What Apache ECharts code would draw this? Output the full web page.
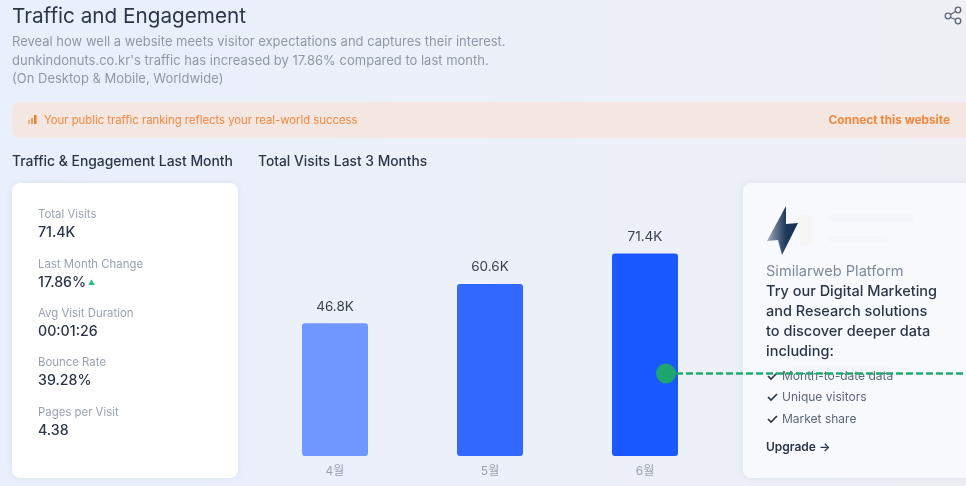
<!DOCTYPE html>
<html>
<head>
<meta charset="utf-8">
<title>Traffic and Engagement</title>
<script src="https://cdn.jsdelivr.net/npm/echarts@6/dist/echarts.min.js"></script>
<style>
html, body { margin: 0; padding: 0; background: #ebf0fa; }
#chart { width: 966px; height: 486px; }
</style>
</head>
<body>
<div id="chart"></div>
<script>
var font = 'Inter, "Noto Sans CJK KR", sans-serif';

var months = ['4월', '5월', '6월'];
var visits = [46.8, 60.6, 71.4];
var barColors = ['#7096ff', '#3368ff', '#1a59ff'];

var introLines = [
    'Reveal how well a website meets visitor expectations and captures their interest.',
    "dunkindonuts.co.kr's traffic has increased by 17.86% compared to last month.",
    '(On Desktop & Mobile, Worldwide)'
];
var statLabels = ['Total Visits', 'Last Month Change', 'Avg Visit Duration', 'Bounce Rate', 'Pages per Visit'];
var statValues = ['71.4K', '17.86%', '00:01:26', '39.28%', '4.38'];
var statLabelY = [215, 265, 314, 363, 413];
var statValueY = [232, 282, 331, 380, 430];
var promoLines = ['Try our Digital Marketing', 'and Research solutions', 'to discover deeper data', 'including:'];
var promoY = [292, 312, 332, 352];
var featureLines = ['Month-to-date data', 'Unique visitors', 'Market share'];
var featureY = [376, 397, 419];

function label(x, y, text, size, color, weight, align) {
    return {
        type: 'text', x: x, y: y, z: 5,
        style: {
            text: text, fontFamily: font, fontSize: size, fill: color,
            fontWeight: weight || 400, align: align || 'left', verticalAlign: 'middle'
        }
    };
}

function card(x, y, w, h, fill, blur) {
    return {
        type: 'rect', z: 1,
        shape: { x: x, y: y, width: w, height: h, r: 8 },
        style: { fill: fill, shadowBlur: blur, shadowColor: 'rgba(90,110,160,0.10)' }
    };
}

function smudge(x, y, w, h, color) {
    return {
        type: 'rect', z: 2,
        shape: { x: x, y: y, width: w, height: h, r: 3 },
        style: { fill: color, shadowBlur: 12, shadowColor: color }
    };
}

function tick(x, y) {
    return {
        type: 'polyline', z: 5,
        shape: { points: [[x, y], [x + 3, y + 3], [x + 9, y - 3]] },
        style: { stroke: '#2b3648', lineWidth: 1.7, fill: null }
    };
}

var graphics = [
    card(12, 102, 966, 36, '#f4e6e0', 0),
    card(12, 183, 226, 295, '#ffffff', 6),
    card(743, 183, 240, 295, '#f7f9fd', 10),
    // blurred-out text in the promo card
    smudge(828, 214, 86, 8, 'rgba(226,231,240,0.14)'),
    smudge(828, 236, 60, 6, 'rgba(226,231,240,0.14)'),
    smudge(800, 215, 12, 30, 'rgba(250,232,210,0.16)'),
    smudge(790, 366, 100, 8, 'rgba(232,236,243,0.14)'),
    label(12, 16.5, 'Traffic and Engagement', 20.7, '#2b3648'),
    label(12, 161.5, 'Traffic & Engagement Last Month', 13.9, '#2b3648', 500),
    label(258, 161.5, 'Total Visits Last 3 Months', 13.8, '#2b3648', 500),
    label(44, 120.5, 'Your public traffic ranking reflects your real-world success', 11.3, '#f0883e'),
    label(950, 120.5, 'Connect this website', 11.8, '#f0883e', 700, 'right'),
    label(766, 272, 'Similarweb Platform', 14.6, '#7f8a9c'),
    label(766, 447.5, 'Upgrade →', 12, '#2b3648', 600),
    label(88, 283, '▲', 7, '#22c07a'),
    // small bars icon in the notice
    { type: 'rect', z: 5, shape: { x: 28, y: 120, width: 2, height: 4 }, style: { fill: '#f5b183' } },
    { type: 'rect', z: 5, shape: { x: 31, y: 118, width: 2, height: 6 }, style: { fill: '#f09a5c' } },
    { type: 'rect', z: 5, shape: { x: 34, y: 115, width: 2.5, height: 9 }, style: { fill: '#ec7f30' } },
    // lightning logo
    {
        type: 'polygon', z: 5,
        shape: { points: [[786, 206], [767, 241], [778, 240], [782, 255], [798, 223], [786, 224]] },
        style: {
            fill: {
                type: 'linear', x: 0, y: 0, x2: 1, y2: 0,
                colorStops: [{ offset: 0, color: '#a3aebb' }, { offset: 0.6, color: '#1e3a5c' }, { offset: 1, color: '#14304f' }]
            }
        }
    },
    // share icon
    { type: 'circle', z: 5, shape: { cx: 958, cy: 10, r: 2.8 }, style: { fill: 'none', stroke: '#5d6878', lineWidth: 1.3 } },
    { type: 'circle', z: 5, shape: { cx: 948, cy: 16, r: 2.8 }, style: { fill: 'none', stroke: '#5d6878', lineWidth: 1.3 } },
    { type: 'circle', z: 5, shape: { cx: 958, cy: 21, r: 2.8 }, style: { fill: 'none', stroke: '#5d6878', lineWidth: 1.3 } },
    { type: 'polyline', z: 5, shape: { points: [[955.5, 11.5], [950.5, 14.5]] }, style: { stroke: '#5d6878', lineWidth: 1.3 } },
    { type: 'polyline', z: 5, shape: { points: [[950.5, 17.5], [955.5, 19.5]] }, style: { stroke: '#5d6878', lineWidth: 1.3 } },
    // green marker drawn over the chart
    {
        type: 'line', z: 20,
        shape: { x1: 666, y1: 373.5, x2: 966, y2: 373.5 },
        style: { stroke: '#1fa971', lineWidth: 2.4, lineDash: [7, 3] }
    },
    { type: 'circle', z: 21, shape: { cx: 666, cy: 373.5, r: 10 }, style: { fill: '#1fa56f' } }
];

introLines.forEach(function (line, i) {
    graphics.push(label(12, 42.5 + i * 18.5, line, 13, '#8f98a8'));
});
statLabels.forEach(function (text, i) {
    graphics.push(label(38, statLabelY[i], text, 11.4, '#9aa2b1'));
    graphics.push(label(38, statValueY[i] + 0.5, statValues[i], 14.2, '#2b3648', 500));
});
promoLines.forEach(function (line, i) {
    graphics.push(label(766, promoY[i], line, 14.5, '#2b3648', 500));
});
featureLines.forEach(function (line, i) {
    graphics.push(tick(768, featureY[i]));
    graphics.push(label(782, featureY[i], line, 12, '#5d6878'));
});

var chart = echarts.init(document.getElementById('chart'));

chart.setOption({
    animation: false,
    backgroundColor: {
        type: 'linear', x: 0, y: 0, x2: 1, y2: 0,
        colorStops: [{ offset: 0, color: '#e9f0fc' }, { offset: 1, color: '#eef0f6' }]
    },
    graphic: graphics,
    grid: { left: 257.5, width: 465, top: 229, height: 227 },
    xAxis: {
        type: 'category',
        data: months,
        axisLine: { show: false },
        axisTick: { show: false },
        axisLabel: { color: '#9aa2b1', fontSize: 12, fontFamily: font, margin: 9 }
    },
    yAxis: { type: 'value', min: 0, max: 80, show: false },
    series: [{
        type: 'bar',
        barWidth: 66,
        z: 10,
        data: visits.map(function (v, i) {
            return { value: v, itemStyle: { color: barColors[i], borderRadius: 3 } };
        }),
        label: {
            show: true,
            position: 'top',
            distance: 10,
            color: '#3a4250',
            fontFamily: font,
            fontSize: 13.5,
            formatter: function (p) { return p.value.toFixed(1) + 'K'; }
        }
    }]
});

window.addEventListener('resize', function () {
    chart.resize();
});
</script>
</body>
</html>
